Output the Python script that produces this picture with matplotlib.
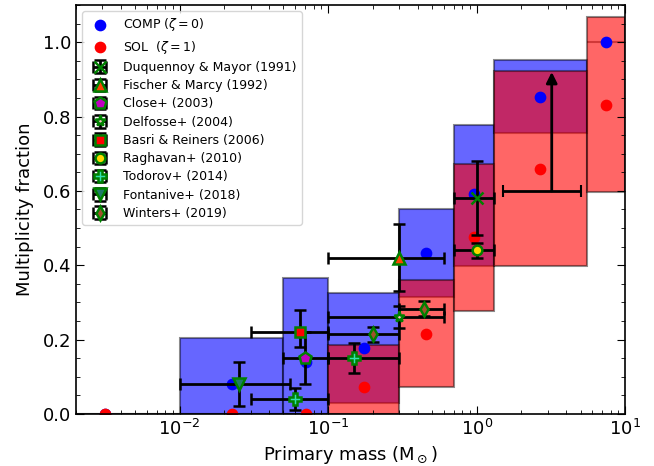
import matplotlib
matplotlib.use("Agg")
import matplotlib.pyplot as plt
from matplotlib.patches import Rectangle
from matplotlib.ticker import MultipleLocator, LogLocator, NullFormatter
import numpy as np

# model bins (primary mass, Msun) and predicted multiplicity ranges
BIN_EDGES = [0.001, 0.01, 0.05, 0.1, 0.3, 0.7, 1.3, 5.5, 10.0]
COMP_LOW = [0.0, 0.0, 0.0, 0.029, 0.314, 0.399, 0.755, 1.0]
COMP_HIGH = [0.0, 0.205, 0.365, 0.326, 0.55, 0.777, 0.953, 1.0]
SOL_LOW = [0.0, 0.0, 0.0, 0.0, 0.073, 0.276, 0.397, 0.596]
SOL_HIGH = [0.0, 0.0, 0.0, 0.185, 0.359, 0.673, 0.922, 1.067]
COMP_FRAC = [0.0, 0.08, 0.14, 0.178, 0.433, 0.592, 0.853, 1.0]
SOL_FRAC = [0.0, 0.0, 0.0, 0.072, 0.214, 0.475, 0.66, 0.832]

# observed multiplicity fractions
STUDIES = [
    "Duquennoy & Mayor (1991)",
    "Fischer & Marcy (1992)",
    "Close+ (2003)",
    "Delfosse+ (2004)",
    "Basri & Reiners (2006)",
    "Raghavan+ (2010)",
    "Todorov+ (2014)",
    "Fontanive+ (2018)",
    "Winters+ (2019)",
]
STUDY_MASS = [[1.0], [0.3], [0.07], [0.3], [0.065], [1.0], [0.06, 0.15], [0.025], [0.2, 0.44]]
STUDY_MASS_LO = [[0.7], [0.1], [0.05], [0.1], [0.03], [0.7], [0.03, 0.1], [0.01], [0.1, 0.3]]
STUDY_MASS_HI = [[1.3], [0.6], [0.1], [0.6], [0.1], [1.3], [0.1, 0.3], [0.055], [0.3, 0.6]]
STUDY_FRAC = [[0.58], [0.42], [0.15], [0.26], [0.22], [0.44], [0.04, 0.15], [0.08], [0.214, 0.283]]
STUDY_ERR_LO = [[0.10], [0.09], [0.07], [0.03], [0.04], [0.02], [0.03, 0.04], [0.06], [0.02, 0.02]]
STUDY_ERR_HI = [[0.10], [0.09], [0.07], [0.03], [0.06], [0.02], [0.03, 0.04], [0.06], [0.02, 0.02]]

# lower limit (arrow)
LIMIT_MASS = 3.2
LIMIT_MASS_LO = 1.5
LIMIT_MASS_HI = 5.0
LIMIT_FRAC = 0.6
LIMIT_TOP = 0.92

MARKERS = ["x", "^", "p", "*", "s", "o", "P", "v", "d"]
FACES = ["green", "orangered", "m", "pink", "red", "gold", "#33e0b0", "#1f7a6a", "sienna"]
SIZES = [9, 9, 9, 8, 7, 7, 8, 9, 7]

fig, ax = plt.subplots(figsize=(6.54, 4.66), dpi=100)
fig.subplots_adjust(left=0.116, right=0.956, top=0.989, bottom=0.112)

centers = np.sqrt(np.array(BIN_EDGES[:-1]) * np.array(BIN_EDGES[1:]))
for lows, highs, face in [(COMP_LOW, COMP_HIGH, (0, 0, 1, 0.6)), (SOL_LOW, SOL_HIGH, (1, 0, 0, 0.6))]:
    for i in range(len(BIN_EDGES) - 1):
        x0, x1 = BIN_EDGES[i], BIN_EDGES[i + 1]
        ax.add_patch(Rectangle((x0, lows[i]), x1 - x0, highs[i] - lows[i],
                               facecolor=face, edgecolor=(0, 0, 0, 0.45), lw=1.5, zorder=1))

ax.scatter(centers, COMP_FRAC, s=55, color="blue", zorder=2, label=r"COMP ($\zeta=0$)")
ax.scatter(centers, SOL_FRAC, s=55, color="red", zorder=2, label=r"SOL  ($\zeta=1$)")

for k, name in enumerate(STUDIES):
    m = np.array(STUDY_MASS[k])
    xerr = [m - np.array(STUDY_MASS_LO[k]), np.array(STUDY_MASS_HI[k]) - m]
    yerr = [STUDY_ERR_LO[k], STUDY_ERR_HI[k]]
    ax.errorbar(m, STUDY_FRAC[k], xerr=xerr, yerr=yerr, fmt=MARKERS[k], ms=SIZES[k],
                mfc=FACES[k], mec="green", mew=1.8, ecolor="k", elinewidth=2,
                capsize=4, capthick=1.5, zorder=3, label=name)

ax.errorbar([LIMIT_MASS], [LIMIT_FRAC],
            xerr=[[LIMIT_MASS - LIMIT_MASS_LO], [LIMIT_MASS_HI - LIMIT_MASS]],
            fmt="none", ecolor="k", elinewidth=2, capsize=4, capthick=1.5, zorder=3)
ax.annotate("", xy=(LIMIT_MASS, LIMIT_TOP), xytext=(LIMIT_MASS, LIMIT_FRAC),
            arrowprops=dict(arrowstyle="-|>", color="k", lw=2, mutation_scale=16,
                            shrinkA=0, shrinkB=0), zorder=3)

ax.set_xscale("log")
ax.set_xlim(0.002, 10)
ax.set_ylim(0, 1.1)
ax.yaxis.set_major_locator(MultipleLocator(0.2))
ax.yaxis.set_minor_locator(MultipleLocator(0.05))
ax.xaxis.set_minor_locator(LogLocator(base=10, subs=np.arange(2, 10), numticks=20))
ax.xaxis.set_minor_formatter(NullFormatter())
ax.tick_params(which="both", direction="in", top=True, right=True, labelsize=13)
ax.tick_params(which="major", length=6)
ax.tick_params(which="minor", length=3)
for spine in ax.spines.values():
    spine.set_linewidth(1.2)

ax.set_xlabel(r"Primary mass (M$_\odot$)", fontsize=13)
ax.set_ylabel("Multiplicity fraction", fontsize=13, labelpad=6)
ax.legend(loc="upper left", fontsize=9, handletextpad=0.9, borderpad=0.4,
          labelspacing=0.42)

fig.savefig("out.png", dpi=100)
